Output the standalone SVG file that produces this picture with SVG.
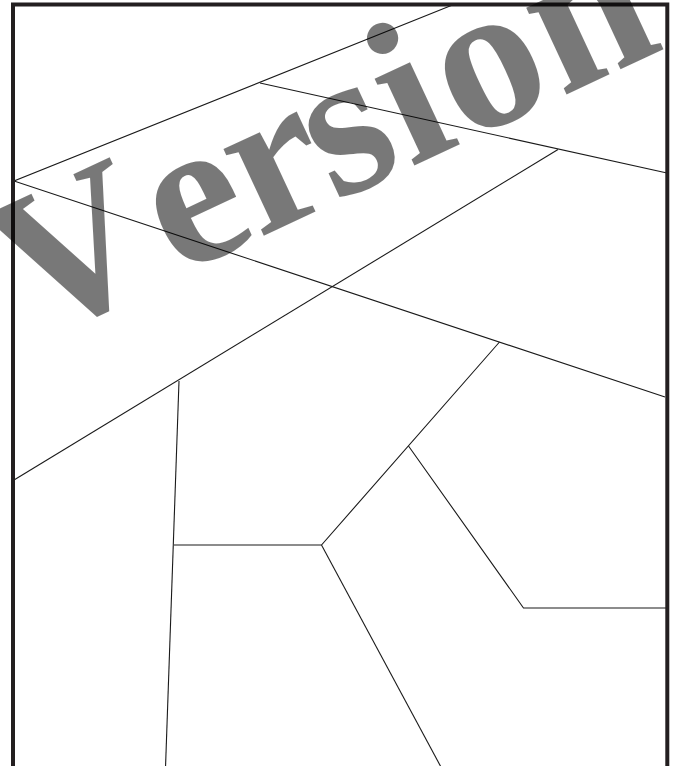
<svg xmlns="http://www.w3.org/2000/svg" width="675" height="766" viewBox="0 0 675 766">
<style>
.ln{fill:none;stroke:#1a1a1a;stroke-width:1.1;stroke-linejoin:miter}
.frame{fill:none;stroke:#231f20;stroke-width:4}
.wm{font-family:"Liberation Serif",serif;font-weight:bold;font-size:208px;fill:#000;fill-opacity:0.53}
</style>
<rect width="675" height="766" fill="#fff"/>
<g id="lines">
<polyline class="ln" points="455,4 14,181 665,397"/>
<line class="ln" x1="260" y1="83" x2="667" y2="173"/>
<line class="ln" x1="558" y1="149.5" x2="14" y2="480"/>
<line class="ln" x1="179" y1="381" x2="165.5" y2="768"/>
<polyline class="ln" points="174,545 321.5,545 499.5,342"/>
<line class="ln" x1="321.5" y1="545" x2="441.5" y2="768"/>
<polyline class="ln" points="408.5,446 523.5,608 667,608"/>
</g>
<path id="frame" class="frame" d="M13,770 V4.5 H667.3 V770"/>
<text class="wm" transform="translate(39.5,340.3) rotate(-25)" x="-7 152 242 326 409 470 576" y="0">Version</text>
</svg>
